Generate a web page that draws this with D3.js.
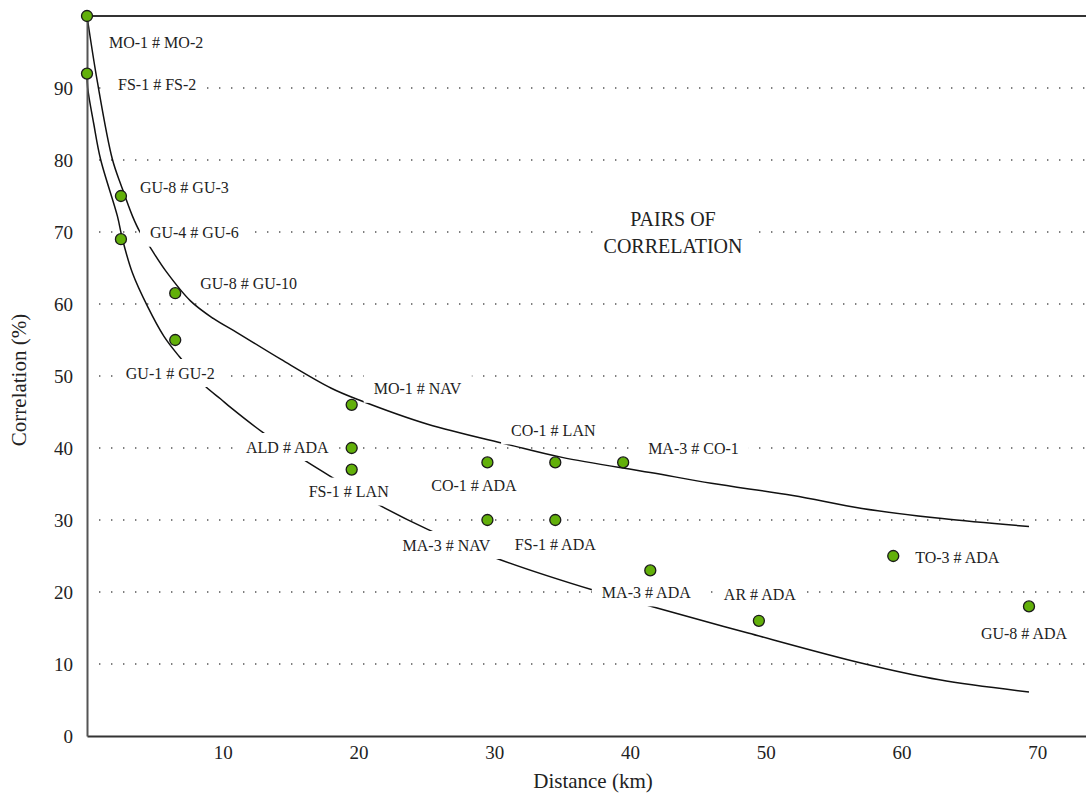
<!DOCTYPE html>
<html>
<head>
<meta charset="utf-8">
<script src="https://cdn.jsdelivr.net/npm/d3@7"></script>
<style>
  html, body { margin: 0; padding: 0; background: #fff; }
  svg { display: block; }
  text { font-family: "Liberation Serif", "DejaVu Serif", serif; fill: #222; }
</style>
</head>
<body>
<svg id="chart" width="1086" height="794"></svg>
<script>
// ---- data ----
const pairLabels = ["MO-1 # MO-2","FS-1 # FS-2","GU-8 # GU-3","GU-4 # GU-6","GU-8 # GU-10","GU-1 # GU-2",
  "MO-1 # NAV","ALD # ADA","FS-1 # LAN","CO-1 # ADA","MA-3 # NAV","CO-1 # LAN","FS-1 # ADA",
  "MA-3 # CO-1","MA-3 # ADA","AR # ADA","TO-3 # ADA","GU-8 # ADA"];
const distances = [0, 0, 2.5, 2.5, 6.5, 6.5, 19.5, 19.5, 19.5, 29.5, 29.5, 34.5, 34.5, 39.5, 41.5, 49.5, 59.4, 69.4];
const correlations = [100, 92, 75, 69, 61.5, 55, 46, 40, 37, 38, 30, 38, 30, 38, 23, 16, 25, 18];

const upperCurveDist = [0, 0.77, 1.87, 2.53, 3.35, 3.9, 4.57, 5.8, 7.64, 9.3, 11.08, 14.3, 18, 20, 25.1, 31, 35, 41.5, 46, 52, 57.1, 63, 69.4];
const upperCurveCorr = [100, 90.8, 80.1, 76.4, 72.2, 70.0, 68.1, 64.6, 60.4, 58.0, 56.0, 52.3, 48.3, 46.7, 43.3, 40.5, 38.7, 36.6, 35.1, 33.4, 31.6, 30.2, 29.1];
const lowerCurveDist = [0, 0.05, 0.5, 1.0, 2.24, 2.6, 3.35, 4.45, 5.67, 6.8, 8.7, 9.85, 10.6, 13.0, 16.1, 17.9, 21.5, 25.1, 30.0, 37.4, 41.4, 48.7, 57.1, 62.8, 69.4];
const lowerCurveCorr = [92, 90, 85, 80.1, 72.2, 69.1, 64.3, 59.7, 55.5, 52.7, 48.6, 46.8, 45.6, 42.1, 38.2, 36.1, 32.1, 28.7, 24.8, 20.2, 18.1, 14.3, 10.1, 7.8, 6.1];

const xTicks = [10, 20, 30, 40, 50, 60, 70];
const yTicks = [0, 10, 20, 30, 40, 50, 60, 70, 80, 90];
const gridValues = [10, 20, 30, 40, 50, 60, 70, 80, 90];

// ---- layout (label placement relative to its point, pixels) ----
const labelLayout = [
  {dx: 22, dy: 26, anchor: "start"},
  {dx: 31, dy: 11, anchor: "start"},
  {dx: 19, dy: -9, anchor: "start"},
  {dx: 29, dy: -6.5, anchor: "start"},
  {dx: 25, dy: -10, anchor: "start"},
  {dx: -5, dy: 33, anchor: "middle"},
  {dx: 22, dy: -16, anchor: "start"},
  {dx: -23, dy: -1, anchor: "end"},
  {dx: -3, dy: 22, anchor: "middle"},
  {dx: -13.5, dy: 23, anchor: "middle"},
  {dx: -41, dy: 25, anchor: "middle"},
  {dx: -2, dy: -32, anchor: "middle"},
  {dx: 0, dy: 24, anchor: "middle"},
  {dx: 25, dy: -14, anchor: "start"},
  {dx: -4, dy: 22, anchor: "middle"},
  {dx: 1, dy: -26, anchor: "middle"},
  {dx: 22, dy: 1, anchor: "start"},
  {dx: -5, dy: 27, anchor: "middle"}
];

const svg = d3.select("#chart");
const mLeft = 87, mRight = 1086, mTop = 16, mBottom = 736;

const x = d3.scaleLinear().domain([0, 73.6]).range([mLeft, mRight]);
const y = d3.scaleLinear().domain([0, 100]).range([mBottom, mTop]);

// gridlines
svg.append("g").selectAll("line").data(gridValues).join("line")
  .attr("x1", mLeft + 12).attr("x2", mRight)
  .attr("y1", d => y(d)).attr("y2", d => y(d))
  .attr("stroke", "#555").attr("stroke-width", 1.3)
  .attr("stroke-dasharray", "1.4,10.6");

// curves
const line = d3.line().x(d => x(d[0])).y(d => y(d[1])).curve(d3.curveCatmullRom.alpha(0.5));
const upper = upperCurveDist.map((d, i) => [d, upperCurveCorr[i]]);
const lower = lowerCurveDist.map((d, i) => [d, lowerCurveCorr[i]]);
svg.append("path").attr("d", line(upper)).attr("fill", "none").attr("stroke", "#111").attr("stroke-width", 1.5);
svg.append("path").attr("d", line(lower)).attr("fill", "none").attr("stroke", "#111").attr("stroke-width", 1.5);

// axes
const xAxis = d3.axisBottom(x).tickValues(xTicks).tickSize(0).tickPadding(10);
const gx = svg.append("g").attr("transform", `translate(0,${mBottom})`).call(xAxis);
gx.select(".domain").attr("stroke", "#333").attr("stroke-width", 2);
gx.selectAll("text").attr("font-size", 19).attr("fill", "#222")
  .attr("font-family", '"Liberation Serif", serif');

const yAxis = d3.axisLeft(y).tickValues(yTicks).tickSize(0).tickPadding(14);
const gy = svg.append("g").attr("transform", `translate(${mLeft},0)`).call(yAxis);
gy.select(".domain").attr("stroke", "#555").attr("stroke-width", 2);
gy.selectAll("text").attr("font-size", 19).attr("fill", "#222")
  .attr("font-family", '"Liberation Serif", serif');

// top border
svg.append("line").attr("x1", mLeft).attr("x2", mRight).attr("y1", mTop).attr("y2", mTop)
  .attr("stroke", "#333").attr("stroke-width", 2);

// axis titles
svg.append("text").attr("x", 593).attr("y", 783).attr("text-anchor", "middle")
  .attr("dominant-baseline", "middle").attr("font-size", 21).text("Distance (km)");
svg.append("text").attr("transform", "translate(21,380) rotate(-90)").attr("text-anchor", "middle")
  .attr("dominant-baseline", "middle").attr("font-size", 21).text("Correlation (%)");

// point labels with white boxes
const points = pairLabels.map((p, i) => ({label: p, d: distances[i], c: correlations[i], lay: labelLayout[i]}));
const boxG = svg.append("g");
const textG = svg.append("g");
points.forEach(p => {
  const t = textG.append("text")
    .attr("x", x(p.d) + p.lay.dx).attr("y", y(p.c) + p.lay.dy)
    .attr("text-anchor", p.lay.anchor).attr("dominant-baseline", "central")
    .attr("font-size", 16).text(p.label);
  const bb = t.node().getBBox();
  boxG.append("rect").attr("x", bb.x - 10).attr("width", bb.width + 20)
    .attr("y", y(p.c) + p.lay.dy - 14).attr("height", 28).attr("fill", "#fff");
});

// "PAIRS OF CORRELATION"
const titleBox = svg.append("rect").attr("fill", "#fff");
const titleLines = ["PAIRS OF", "CORRELATION"];
const tt = svg.append("text").attr("text-anchor", "middle").attr("font-size", 20);
titleLines.forEach((s, i) => tt.append("tspan").attr("x", 673).attr("y", 226 + i * 27).text(s));
const tb = tt.node().getBBox();
titleBox.attr("x", tb.x - 8).attr("y", tb.y - 2)
  .attr("width", tb.width + 16).attr("height", tb.height + 4);

// markers
svg.append("g").selectAll("circle").data(points).join("circle")
  .attr("cx", d => x(d.d)).attr("cy", d => y(d.c)).attr("r", 5.5)
  .attr("fill", "#62b00a").attr("stroke", "#1a1a1a").attr("stroke-width", 1.3);
</script>
</body>
</html>
